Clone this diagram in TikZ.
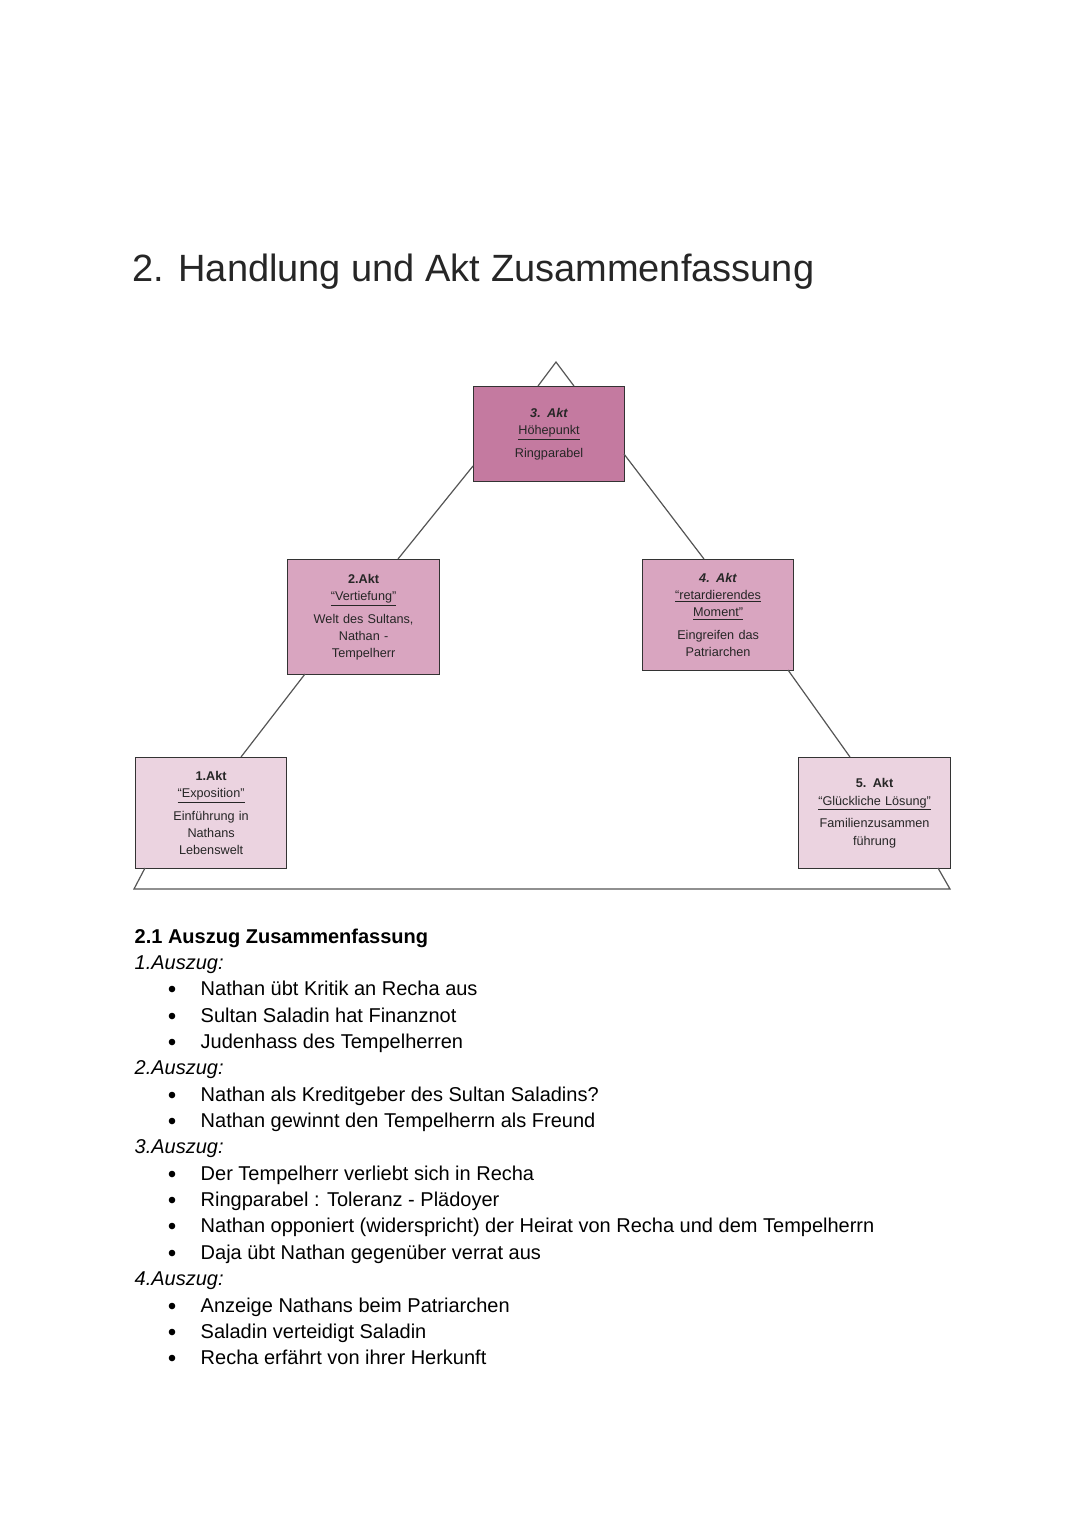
\documentclass[tikz,border=0pt]{standalone}
\usepackage{fontspec}
\setmainfont{Liberation Sans}
\newcommand\uln[1]{\underline{#1}}
\definecolor{cA}{HTML}{C47AA0}
\definecolor{cB}{HTML}{D9A5C0}
\definecolor{cC}{HTML}{EBD3E0}
\definecolor{ln}{HTML}{555555}
\begin{document}
\begin{tikzpicture}[x=0.75pt,y=-0.75pt,
  box/.style={draw=black!80,line width=0.9pt,anchor=north west,inner sep=0pt,align=center,font=\fontsize{9.5}{13}\selectfont,text=black!85},
  edge/.style={draw=ln,line width=0.9pt},
  it/.style={anchor=base west,font=\fontsize{15}{18}\selectfont}]
\useasboundingbox (0,0) rectangle (1080,1525);
\node[anchor=base west,font=\fontsize{28.5}{34}\selectfont,text=black!85] (title) at (128,281) {2. Handlung und Akt Zusammenfassung};
% boxes
\node[box,fill=cA,text width=148*0.75pt,minimum width=151*0.75pt,minimum height=95*0.75pt] (a3) at (473,386) {\textbf{\textit{3. Akt}}\\\uln{Höhepunkt}\\[4pt]Ringparabel};
\node[box,fill=cB,text width=148*0.75pt,minimum width=152*0.75pt,minimum height=115*0.75pt] (a2) at (287,559) {\textbf{2.Akt}\\\uln{“Vertiefung”}\\[4pt]Welt des Sultans,\\Nathan -\\Tempelherr};
\node[box,fill=cB,text width=148*0.75pt,minimum width=151*0.75pt,minimum height=111*0.75pt] (a4) at (642,559) {\textbf{\textit{4. Akt}}\\\uln{“retardierendes}\\\uln{Moment”}\\[4pt]Eingreifen das\\Patriarchen};
\node[box,fill=cC,text width=148*0.75pt,minimum width=151*0.75pt,minimum height=111*0.75pt] (a1) at (135,757) {\textbf{1.Akt}\\\uln{“Exposition”}\\[4pt]Einführung in\\Nathans\\Lebenswelt};
\node[box,fill=cC,text width=148*0.75pt,minimum width=152*0.75pt,minimum height=111*0.75pt] (a5) at (798,757) {\textbf{5. Akt}\\\uln{“Glückliche Lösung”}\\[4pt]Familienzusammen\\führung};
% connector points
\coordinate (apex) at (556,362);
\coordinate (t3l) at (538,386); \coordinate (t3r) at (574,386);
\coordinate (l3) at (473,466); \coordinate (r3) at (624,454);
\coordinate (t2) at (398,559); \coordinate (b2) at (305,674);
\coordinate (t4) at (704,559); \coordinate (b4) at (788,670);
\coordinate (t1) at (241,757); \coordinate (t5) at (850,757);
\coordinate (b1) at (145,868); \coordinate (bl) at (134,889);
\coordinate (b5) at (938,868); \coordinate (br) at (950,889);
\draw[edge] (t3l) -- (apex) -- (t3r);
\draw[edge] (t2) -- (l3);
\draw[edge] (r3) -- (t4);
\draw[edge] (b2) -- (t1);
\draw[edge] (b4) -- (t5);
\draw[edge] (b1) -- (bl) -- (br) -- (b5);
% text list
\node[it,font=\fontsize{15}{18}\selectfont\bfseries] (h) at (130,943) {2.1 Auszug Zusammenfassung};
\foreach \y/\t [count=\i] in {969/1.Auszug:,1074/2.Auszug:,1153/3.Auszug:,1285/4.Auszug:}
  \node[it,font=\fontsize{15}{18}\selectfont\itshape] (z\i) at (130,\y) {\t};
\foreach \y/\t [count=\i] in {
 995/Nathan übt Kritik an Recha aus,
 1022/Sultan Saladin hat Finanznot,
 1048/Judenhass des Tempelherren,
 1101/Nathan als Kreditgeber des Sultan Saladins?,
 1127/Nathan gewinnt den Tempelherrn als Freund,
 1180/Der Tempelherr verliebt sich in Recha,
 1206/Ringparabel : Toleranz - Plädoyer,
 1232/Nathan opponiert (widerspricht) der Heirat von Recha und dem Tempelherrn,
 1259/Daja übt Nathan gegenüber verrat aus,
 1312/Anzeige Nathans beim Patriarchen,
 1338/Saladin verteidigt Saladin,
 1364/Recha erfährt von ihrer Herkunft}
 {\node[it] (i\i) at (196,\y) {\t};
  \fill (172,\y-6) circle (3.3);}
\end{tikzpicture}
\end{document}
